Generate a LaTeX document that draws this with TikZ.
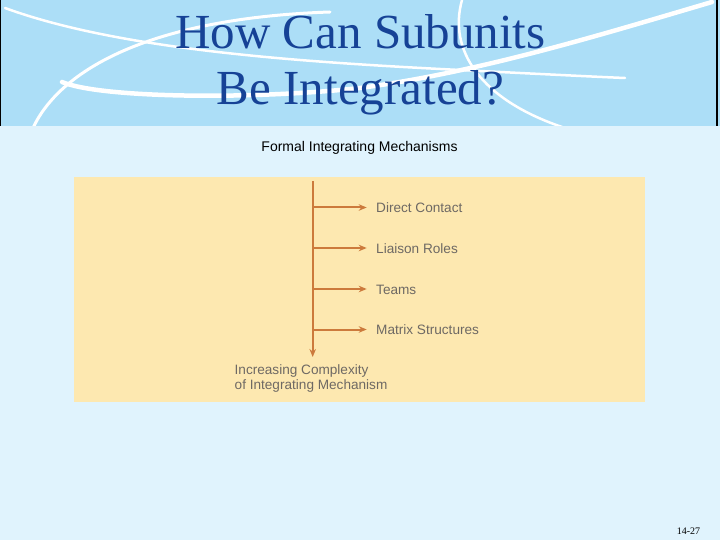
\documentclass[tikz,border=0pt]{standalone}
\usepackage{fontspec}
\setmainfont{Liberation Serif}
\newfontfamily\arialf{Liberation Sans}
\usetikzlibrary{arrows.meta}
\definecolor{hdrblue}{RGB}{172,222,247}
\definecolor{bodyblue}{RGB}{224,243,253}
\definecolor{boxyellow}{RGB}{253,232,176}
\definecolor{titleblue}{RGB}{22,66,150}
\definecolor{arroworange}{RGB}{204,122,60}
\definecolor{labelgray}{RGB}{110,105,100}
\begin{document}
\begin{tikzpicture}[x=1pt,y=-1pt,
  swoosh/.style={draw=white,line cap=round},
  flowline/.style={draw=arroworange,line width=2pt,-{Stealth[length=8pt,width=6.5pt]}},
  itemlabel/.style={font=\arialf\fontsize{13.6}{15}\selectfont,text=labelgray,anchor=west,inner sep=0pt},
  titletext/.style={font=\fontsize{49}{56}\selectfont,text=titleblue,inner sep=0pt,anchor=base}]
\useasboundingbox (0,0) rectangle (720,540);
% backgrounds
\fill[bodyblue] (0,0) rectangle (720,540);
\fill[hdrblue] (0,0) rectangle (720,126);
% header swooshes
\begin{scope}
\clip (0,0) rectangle (720,126);
\draw[swoosh,line width=2.5pt] (5,8) .. controls (120,50) and (300,62) .. (460,70) .. controls (540,74) and (600,77) .. (625,78);
\draw[swoosh,line width=4.5pt] (62,82) .. controls (100,98) and (250,100) .. (360,88) .. controls (480,72) and (600,35) .. (712,2);
\draw[swoosh,line width=3pt] (33,128) .. controls (60,70) and (150,18) .. (330,12);
\draw[swoosh,line width=2.5pt] (462,0) .. controls (448,50) and (480,100) .. (565,128);
\end{scope}
\draw[black,line width=1.2pt] (0.6,0) -- (0.6,126);
\draw[black,line width=1.2pt] (717,0) -- (717,126);
% title
\node[titletext] (t1) at (360.5,49) {How Can Subunits};
\node[titletext] (t2) at (360.5,105) {Be Integrated?};
% subtitle
\node[font=\arialf\fontsize{14}{16}\selectfont,inner sep=0pt] (sub) at (359.5,148) {Formal Integrating Mechanisms};
% yellow panel
\fill[boxyellow] (74,177) rectangle (645,402);
% diagram
\coordinate (vtop) at (312.7,181);
\coordinate (vbot) at (312.7,357);
\draw[flowline] (vtop) -- (vbot);
\coordinate (b1) at (312.7,207.5);
\coordinate (b2) at (312.7,248);
\coordinate (b3) at (312.7,289);
\coordinate (b4) at (312.7,329.5);
\node[itemlabel] (l1) at (376,208) {Direct Contact};
\node[itemlabel] (l2) at (376,248.5) {Liaison Roles};
\node[itemlabel] (l3) at (376,289.5) {Teams};
\node[itemlabel] (l4) at (376,330) {Matrix Structures};
\draw[flowline] (b1) -- ++(54,0);
\draw[flowline] (b2) -- ++(54,0);
\draw[flowline] (b3) -- ++(54,0);
\draw[flowline] (b4) -- ++(54,0);
\node[itemlabel,align=left,anchor=north west,font=\arialf\fontsize{13.6}{14.5}\selectfont] (inc) at (234.5,364.5) {Increasing Complexity\\of Integrating Mechanism};
% page number
\node[font=\fontsize{10}{12}\selectfont,inner sep=0pt] (pg) at (688.5,531) {14-27};
\end{tikzpicture}
\end{document}
